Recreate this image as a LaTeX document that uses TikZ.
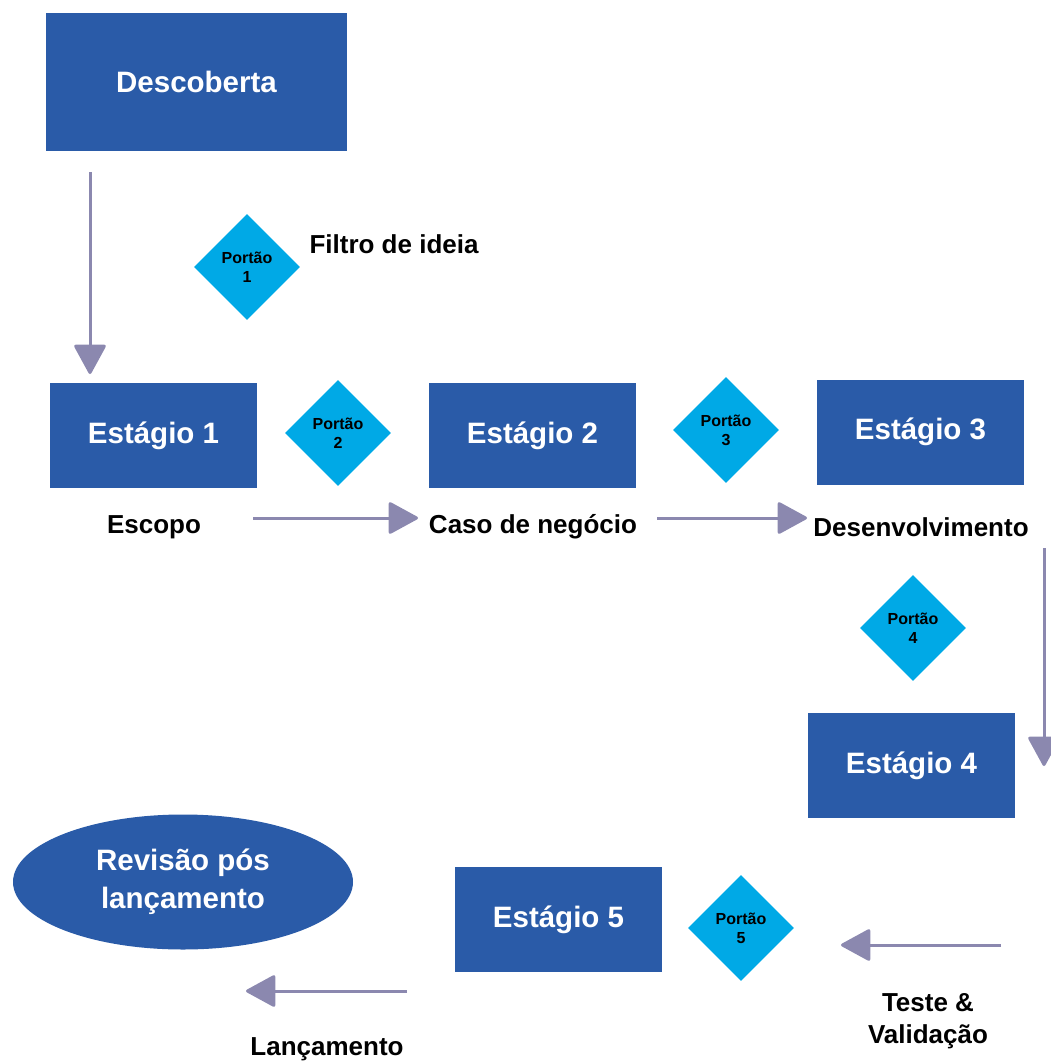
\documentclass[tikz,border=0pt]{standalone}
\usepackage{fontspec}
\setmainfont{Liberation Sans}
\usetikzlibrary{shapes.geometric,arrows.meta}
\definecolor{stageblue}{HTML}{2A5BA8}
\definecolor{gatecyan}{HTML}{00A9E6}
\definecolor{flowgray}{HTML}{8B88AF}
\tikzstyle{stage} = [rectangle, minimum width=207pt, minimum height=105pt, text centered, fill=stageblue, text=white, font=\bfseries\fontsize{29.5}{35}\selectfont]
\tikzstyle{gate} = [diamond, minimum width=106pt, minimum height=106pt, inner sep=0pt, align=center, fill=gatecyan, text=black, font=\bfseries\fontsize{16}{19}\selectfont]
\tikzstyle{caption} = [align=center, text=black, font=\bfseries\fontsize{26}{32}\selectfont]
\tikzstyle{arrow} = [line width=3pt, draw=flowgray, -{Triangle[length=31pt, width=33pt, round]}]

\begin{document}
\begin{tikzpicture}[x=1pt, y=-1pt]
        \useasboundingbox (0,0) rectangle (1051,1062);

        \node (disc) [stage, minimum width=301pt, minimum height=138pt] at (196.5,82) {Descoberta};
        \node (gate1) [gate] at (247,267) {Portão\\1};
        \node (filter) [caption, anchor=west] at (306,244) {Filtro de ideia};

        \node (st1) [stage] at (153.5,435.5) {Estágio 1};
        \node (gate2) [gate] at (338,433) {Portão\\2};
        \node (st2) [stage] at (532.5,435.5) {Estágio 2};
        \node (gate3) [gate] at (726,430) {Portão\\3};
        \node (st3) [stage] at (920.5,432) {Estágio 3};

        \node (scope) [caption] at (154,527) {Escopo};
        \node (case) [caption] at (533,527) {Caso de negócio};
        \node (dev) [caption] at (921,527) {Desenvolvimento};

        \node (gate4) [gate] at (913,628) {Portão\\4};
        \node (st4) [stage] at (911.5,765.5) {Estágio 4};

        \node (review) [ellipse, minimum width=340pt, minimum height=135pt, inner sep=0pt, fill=stageblue, text=white, align=center, font=\bfseries\fontsize{29.5}{38}\selectfont] at (183,882) {Revisão pós\\lançamento};
        \node (st5) [stage] at (558.5,919.5) {Estágio 5};
        \node (gate5) [gate] at (741,928) {Portão\\5};

        \node (test) [caption] at (928,1021) {Teste \&\\Validação};
        \node (launch) [caption] at (327,1049) {Lançamento};

        % free arrow ends
        \coordinate (a1s) at (90,172);
        \coordinate (a1e) at (90,374);
        \coordinate (a2s) at (253,518);
        \coordinate (a2e) at (418,518);
        \coordinate (a3s) at (657,518);
        \coordinate (a3e) at (807,518);
        \coordinate (a4s) at (1044,548);
        \coordinate (a4e) at (1044,766);
        \coordinate (a5s) at (1001,945);
        \coordinate (a5e) at (841,945);
        \coordinate (a6s) at (407,991);
        \coordinate (a6e) at (246,991);

        \draw [arrow] (a1s) -- (a1e);
        \draw [arrow] (a2s) -- (a2e);
        \draw [arrow] (a3s) -- (a3e);
        \draw [arrow] (a4s) -- (a4e);
        \draw [arrow] (a5s) -- (a5e);
        \draw [arrow] (a6s) -- (a6e);

        \end{tikzpicture}
\end{document}
